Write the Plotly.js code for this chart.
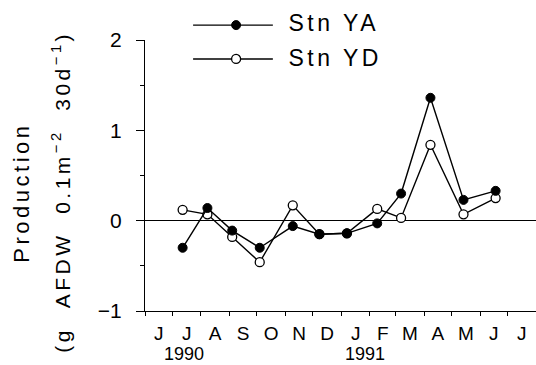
<!DOCTYPE html>
<html>
<head>
<meta charset="utf-8">
<script src="https://cdn.plot.ly/plotly-3.0.1.min.js"></script>
<style>
html,body{margin:0;padding:0;background:#fff;}
#chart{width:536px;height:365px;}
#chart text.annotation-text{letter-spacing:3.5px !important;}
#chart g.annotation[data-index="4"] text.annotation-text,
#chart g.annotation[data-index="5"] text.annotation-text{letter-spacing:0px !important;}
</style>
</head>
<body>
<div id="chart"></div>
<script>
// Sampling dates (approximate)
var sampleDates = ['1990-07-12','1990-08-08','1990-09-04','1990-10-04','1990-11-09','1990-12-08',
                   '1991-01-07','1991-02-09','1991-03-07','1991-04-08','1991-05-14','1991-06-18'];
// Production (g AFDW 0.1m-2 30d-1)
var stnYA = [-0.30, 0.14, -0.11, -0.30, -0.06, -0.15, -0.14, -0.03, 0.30, 1.36, 0.23, 0.33];
var stnYD = [0.12, 0.07, -0.18, -0.46, 0.17, -0.15, -0.14, 0.13, 0.03, 0.84, 0.07, 0.25];
// Month tick labels: abbreviations produced by the axis, shown as single letters
var monthAbbrev = ['Jan','Feb','Mar','Apr','May','Jun','Jul','Aug','Sep','Oct','Nov','Dec'];
var monthLetter = ['J','F','M','A','M','J','J','A','S','O','N','D'];
var yearLabels = ['1990','1991'];
var yearPositions = ['1990-07-13','1991-01-27'];

var FONT = 'Liberation Sans, Arial, Helvetica, sans-serif';

var alias = {};
for (var m = 0; m < monthAbbrev.length; m++) alias[monthAbbrev[m]] = monthLetter[m];

var traces = [
  {x: sampleDates, y: stnYD, name: 'Stn YD', type: 'scatter', mode: 'lines+markers',
   line: {color: '#000', width: 1.4},
   marker: {symbol: 'circle', size: 9, color: '#fff', line: {color: '#000', width: 1.3}},
   showlegend: false},
  {x: sampleDates, y: stnYA, name: 'Stn YA', type: 'scatter', mode: 'lines+markers',
   line: {color: '#000', width: 1.4},
   marker: {symbol: 'circle', size: 9, color: '#000', line: {color: '#000', width: 1}},
   showlegend: false}
];

var annotations = [
  {text: 'Production', xref: 'paper', yref: 'paper', x: -0.317, y: 0.435, textangle: -90,
   showarrow: false, xanchor: 'center', yanchor: 'middle', font: {family: FONT, size: 22, color: '#000'}},
  {text: '(g&nbsp;&nbsp;AFDW&nbsp;&nbsp;0.1m<sup>−2</sup>&nbsp;&nbsp;30d<sup>−1</sup>)', xref: 'paper', yref: 'paper',
   x: -0.215, y: 0.44, textangle: -90,
   showarrow: false, xanchor: 'center', yanchor: 'middle', font: {family: FONT, size: 21, color: '#000'}},
  {text: 'Stn YA', xref: 'paper', yref: 'paper', x: 0.389, y: 1.064, showarrow: false,
   xanchor: 'left', yanchor: 'middle', font: {family: FONT, size: 23, color: '#000'}},
  {text: 'Stn YD', xref: 'paper', yref: 'paper', x: 0.389, y: 0.934, showarrow: false,
   xanchor: 'left', yanchor: 'middle', font: {family: FONT, size: 23, color: '#000'}}
];
for (var i = 0; i < yearLabels.length; i++) {
  annotations.push({text: yearLabels[i], xref: 'x', yref: 'paper', x: yearPositions[i], y: -0.157,
    showarrow: false, xanchor: 'center', yanchor: 'middle', borderpad: 0,
    font: {family: FONT, size: 18, color: '#000'}});
}

var legendShapes = [
  {type: 'line', xref: 'paper', yref: 'paper', x0: 0.123, x1: 0.327, y0: 1.055, y1: 1.055, line: {color: '#000', width: 1.4}},
  {type: 'line', xref: 'paper', yref: 'paper', x0: 0.123, x1: 0.327, y0: 0.93, y1: 0.93, line: {color: '#000', width: 1.4}},
  {type: 'circle', xref: 'paper', yref: 'paper', xsizemode: 'pixel', ysizemode: 'pixel',
   xanchor: 0.233, yanchor: 1.055, x0: -4.5, x1: 4.5, y0: -4.5, y1: 4.5,
   fillcolor: '#000', line: {color: '#000', width: 1}},
  {type: 'circle', xref: 'paper', yref: 'paper', xsizemode: 'pixel', ysizemode: 'pixel',
   xanchor: 0.233, yanchor: 0.93, x0: -4.5, x1: 4.5, y0: -4.5, y1: 4.5,
   fillcolor: '#fff', line: {color: '#000', width: 1.3}}
];

var layout = {
  width: 536, height: 365,
  margin: {l: 145, r: 0, t: 40, b: 54},
  paper_bgcolor: '#fff', plot_bgcolor: '#fff',
  font: {family: FONT, color: '#000'},
  showlegend: false,
  xaxis: {
    type: 'date', range: ['1990-06-01', '1991-08-01'],
    tickmode: 'linear', tick0: '1990-06-01', dtick: 'M1',
    tickformat: '%b', ticklabelmode: 'period', labelalias: alias,
    ticks: 'outside', ticklen: 4, tickcolor: '#000', tickwidth: 1,
    showgrid: false, zeroline: false,
    showline: true, linecolor: '#000', linewidth: 1.2,
    tickfont: {family: FONT, size: 19, color: '#000'},
    ticklabelstandoff: 1
  },
  yaxis: {
    range: [-1, 2], tickmode: 'linear', tick0: -1, dtick: 1,
    ticks: 'outside', ticklen: 8, tickcolor: '#000', tickwidth: 1,
    showgrid: false, zeroline: true, zerolinecolor: '#000', zerolinewidth: 1,
    showline: true, linecolor: '#000', linewidth: 1.2,
    tickfont: {family: FONT, size: 21, color: '#000'},
    ticklabelstandoff: 10,
    minor: {ticks: 'outside', ticklen: 4, tickcolor: '#000', tickwidth: 1, dtick: 0.5, showgrid: false}
  },
  annotations: annotations,
  shapes: legendShapes
};

Plotly.newPlot('chart', traces, layout, {displayModeBar: false, staticPlot: true});
</script>
</body>
</html>
